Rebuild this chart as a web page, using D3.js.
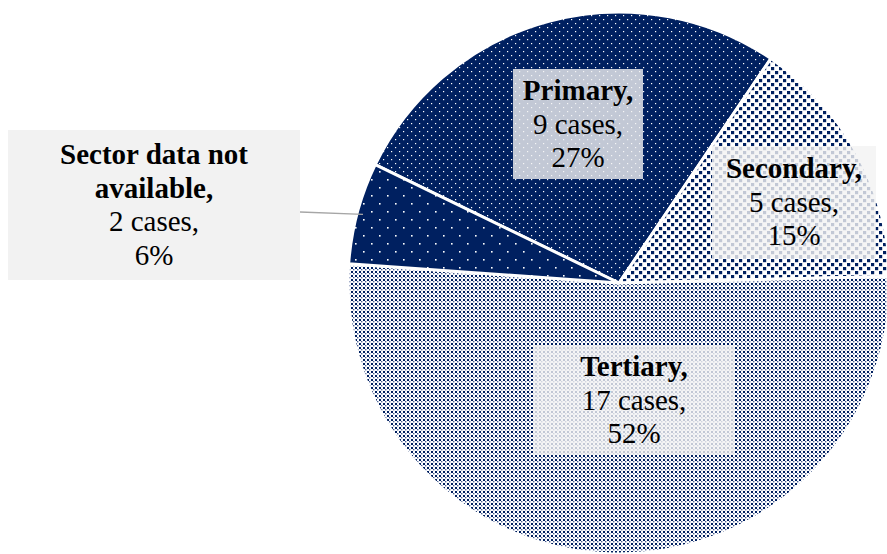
<!DOCTYPE html>
<html>
<head>
<meta charset="utf-8">
<script src="https://cdn.jsdelivr.net/npm/d3@7"></script>
<style>
  body { margin: 0; background: #fff; }
  svg { display: block; }
</style>
</head>
<body>
<svg width="887" height="554"></svg>
<script>
// data
var categories = ['Primary', 'Secondary', 'Tertiary', 'Sector data not available'];
var nameLines = [['Primary,'], ['Secondary,'], ['Tertiary,'], ['Sector data not', 'available,']];
var cases = [9, 5, 17, 2];

// layout
var W = 887, H = 554;
var CX = 619, CY = 283, R = 271;
var START = -64.1 * Math.PI / 180;
var NAVY = '#002060';
var FONT = 29, LINE = 33.5;
var SERIF = '"Liberation Serif", "Times New Roman", Times, "DejaVu Serif", serif';
// label boxes: centre and size, per category
var boxes = [
    {cx: 578, cy: 124, w: 130, h: 110},
    {cx: 794, cy: 202, w: 164, h: 112},
    {cx: 634, cy: 400, w: 202, h: 110},
    {cx: 154, cy: 205, w: 292, h: 150}
];

var svg = d3.select('svg');
var defs = svg.append('defs');

function pattern(id, size, bg, cells) {
    var p = defs.append('pattern')
        .attr('id', id)
        .attr('patternUnits', 'userSpaceOnUse')
        .attr('width', size)
        .attr('height', size);
    p.append('rect').attr('width', size).attr('height', size).attr('fill', bg);
    cells.forEach(function(c) {
        p.append('rect')
            .attr('x', c[0]).attr('y', c[1])
            .attr('width', c[2]).attr('height', c[2])
            .attr('fill', c[3]);
    });
    return 'url(#' + id + ')';
}

var fills = [
    pattern('pPrimary', 8, NAVY, [[0, 0, 1.2, '#ffffff'], [4, 4, 1.2, '#ffffff']]),
    pattern('pSecondary', 8, '#ffffff', [[0, 0, 3.2, NAVY], [4, 4, 3.2, NAVY]]),
    pattern('pTertiary', 4, '#ffffff', [[0, 0, 2, NAVY], [2, 2, 1.4, '#4a5f95']]),
    pattern('pNA', 16, NAVY, [[0, 0, 1.6, '#ffffff'], [8, 8, 1.6, '#ffffff']])
];

var total = d3.sum(cases);
var pie = d3.pie().sort(null).value(function(d) { return d; })
    .startAngle(START).endAngle(START + 2 * Math.PI);
var arcs = pie(cases);
var arc = d3.arc().innerRadius(0).outerRadius(R);

var g = svg.append('g').attr('transform', 'translate(' + CX + ',' + CY + ')');
g.selectAll('path')
    .data(arcs)
    .enter()
    .append('path')
    .attr('d', arc)
    .attr('fill', function(d, i) { return fills[i]; })
    .attr('stroke', '#ffffff')
    .attr('stroke-width', 3)
    .attr('stroke-linejoin', 'round');

// leader line for the small slice
var na = arcs[3];
var mid = (na.startAngle + na.endAngle) / 2;
var edge = [CX + Math.sin(mid) * (R - 6), CY - Math.cos(mid) * (R - 6)];
var b3 = boxes[3];
svg.append('line')
    .attr('x1', b3.cx + b3.w / 2).attr('y1', b3.cy + 7)
    .attr('x2', edge[0]).attr('y2', edge[1])
    .attr('stroke', '#a6a6a6')
    .attr('stroke-width', 1.3);

// labels
var labels = svg.selectAll('g.label')
    .data(categories)
    .enter()
    .append('g')
    .attr('class', 'label');

labels.append('rect')
    .attr('x', function(d, i) { return boxes[i].cx - boxes[i].w / 2; })
    .attr('y', function(d, i) { return boxes[i].cy - boxes[i].h / 2; })
    .attr('width', function(d, i) { return boxes[i].w; })
    .attr('height', function(d, i) { return boxes[i].h; })
    .attr('fill', '#f2f2f2')
    .attr('fill-opacity', function(d, i) { return i == 3 ? 1 : 0.8; });

labels.each(function(d, i) {
    var lines = nameLines[i].map(function(t) { return {t: t, bold: true}; });
    lines.push({t: cases[i] + ' cases,', bold: false});
    lines.push({t: Math.round(cases[i] / total * 100) + '%', bold: false});
    var n = lines.length;
    var b = boxes[i];
    d3.select(this).selectAll('text')
        .data(lines)
        .enter()
        .append('text')
        .attr('x', b.cx)
        .attr('y', function(l, k) { return b.cy + (k - (n - 1) / 2) * LINE + FONT * 0.33; })
        .attr('text-anchor', 'middle')
        .attr('font-family', SERIF)
        .attr('font-size', FONT)
        .attr('font-weight', function(l) { return l.bold ? 'bold' : 'normal'; })
        .attr('fill', '#000000')
        .text(function(l) { return l.t; });
});
</script>
</body>
</html>
